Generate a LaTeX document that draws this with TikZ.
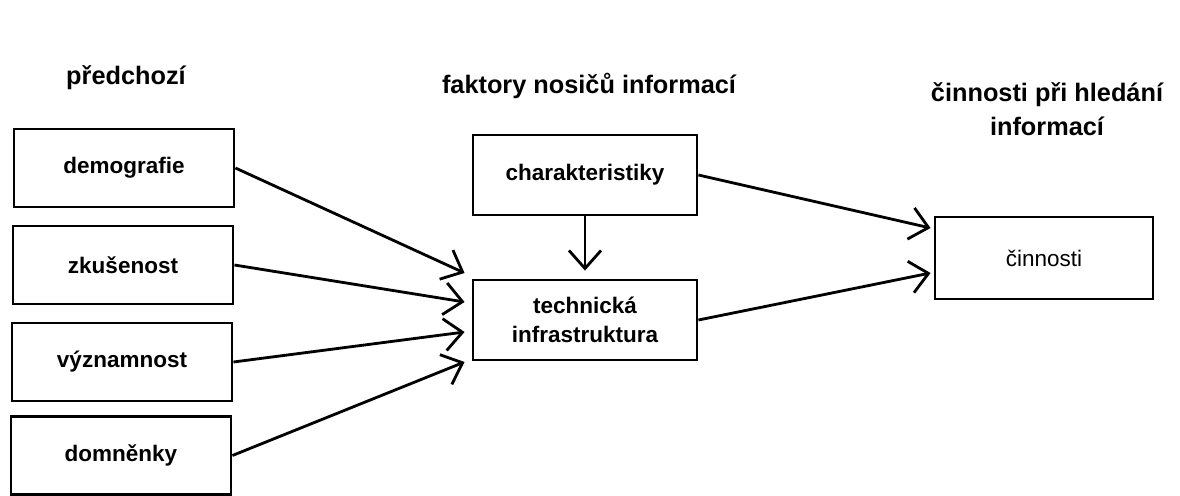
\documentclass[tikz,border=0pt]{standalone}
\usepackage{fontspec}
\setmainfont{Liberation Sans}
\usetikzlibrary{arrows.meta,calc}

\tikzset{
  boxtext/.style={font=\fontsize{16}{21}\selectfont\bfseries},
  headtext/.style={font=\fontsize{18}{22}\selectfont\bfseries},
  factorbox/.style={draw, line width=2pt, boxtext, align=center,
    minimum width=5.5cm, minimum height=1.95cm},
  flow/.style={line width=2pt, -{Straight Barb[length=4.5mm, width=8mm, line width=2pt]}}
}

\begin{document}
\begin{tikzpicture}[x=0.025cm, y=-0.025cm]
\useasboundingbox (0,0) rectangle (1180,495);

% headings
\node[headtext] (hprev) at (126,78) {předchozí};
\node[headtext] (hcarrier) at (589,86) {faktory nosičů informací};
\node[headtext, align=center, font=\fontsize{18}{24}\selectfont\bfseries] (hact) at (1047,109) {činnosti při hledání\\informací};

% predecessors
\node[factorbox] (demo) at (124,168) {demografie};
\node[factorbox] (exp) at (123,265) {zkušenost};
\node[factorbox] (sal) at (122,362) {významnost};
\node[factorbox] (bel) at (121,455.5) {domněnky};

% carrier factors
\node[factorbox, minimum width=5.6cm, minimum height=2cm] (char) at (585,175) {charakteristiky};
\node[factorbox, minimum width=5.6cm, minimum height=2cm] (tech) at (585,320) {technická\\infrastruktura};

% actions
\node[factorbox, minimum width=5.45cm, minimum height=2.05cm, font=\fontsize{16}{21}\selectfont] (act) at (1044,258) {činnosti};

\coordinate (in1) at ($(tech.west)+(-7,-47)$);
\coordinate (in2) at ($(tech.west)+(-7,-18)$);
\coordinate (in3) at ($(tech.west)+(-7,12)$);
\coordinate (in4) at ($(tech.west)+(-7,42)$);
\coordinate (out1) at ($(act.west)+(-3,-30)$);
\coordinate (out2) at ($(act.west)+(-3,15)$);

\draw[flow] (demo.east) -- (in1);
\draw[flow] (exp.east) -- (in2);
\draw[flow] (sal.east) -- (in3);
\draw[flow] (bel.east) -- (in4);
\draw[flow, shorten >=2mm] (char.south) -- (tech.north);
\draw[flow] (char.east) -- (out1);
\draw[flow] (tech.east) -- (out2);
\end{tikzpicture}
\end{document}
